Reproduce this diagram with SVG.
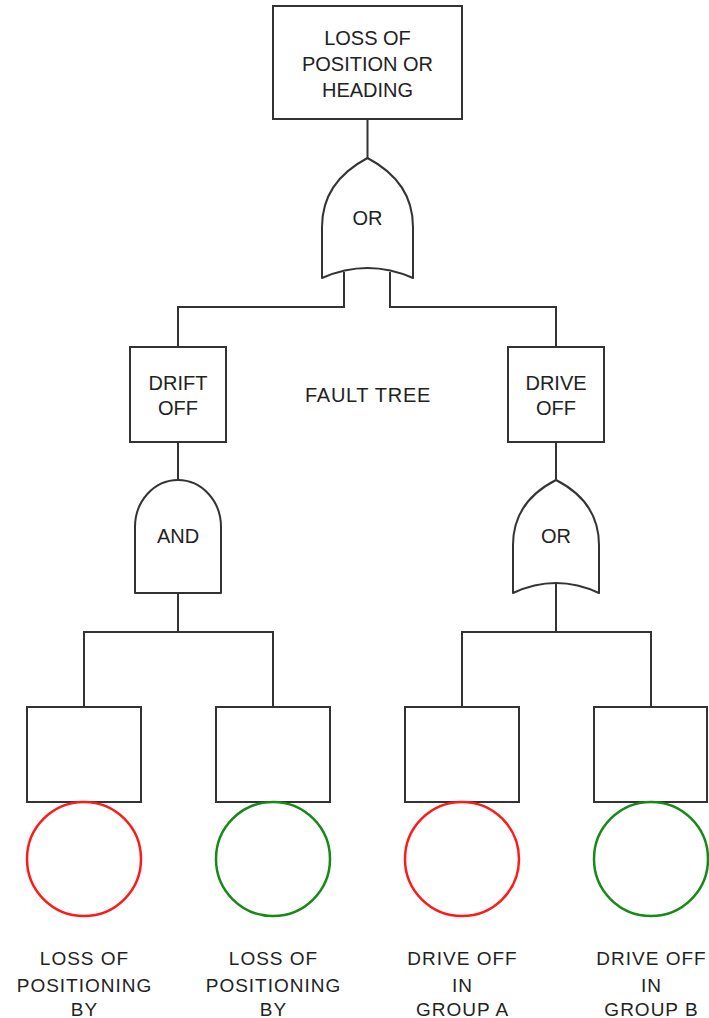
<svg xmlns="http://www.w3.org/2000/svg" width="709" height="1018" viewBox="0 0 709 1018">
  <style>
    .box { fill: #ffffff; stroke: #333333; stroke-width: 2; }
    .gate { fill: #ffffff; stroke: #333333; stroke-width: 2; stroke-linejoin: round; }
    .wire { fill: none; stroke: #333333; stroke-width: 2; }
    .basic { fill: none; stroke-width: 2.5; }
    .red { stroke: #ff1a1a; }
    .green { stroke: #158a15; }
    .lbl { font-family: "Liberation Sans", Arial, sans-serif; font-size: 20px; fill: #222222; text-anchor: middle; }
    .cap { font-family: "Liberation Sans", Arial, sans-serif; font-size: 19px; letter-spacing: 1px; fill: #222222; text-anchor: middle; }
  </style>

  <rect width="709" height="1018" fill="#ffffff"/>

  <!-- connectors -->
  <g id="connectors">
    <path class="wire" d="M367.5,119 V160"/>
    <path class="wire" d="M344,272 V307 H178 V347"/>
    <path class="wire" d="M390,272 V307 H556 V347"/>
    <path class="wire" d="M178,442 V480"/>
    <path class="wire" d="M178,593 V632"/>
    <path class="wire" d="M84,707 V632 H273 V707"/>
    <path class="wire" d="M556,442 V482"/>
    <path class="wire" d="M556,583 V632"/>
    <path class="wire" d="M462,707 V632 H651 V707"/>
  </g>

  <!-- top event -->
  <g id="top-event">
    <rect class="box" x="273" y="6" width="189" height="113"/>
    <text class="lbl" x="367.5" y="45">LOSS OF</text>
    <text class="lbl" x="367.5" y="71">POSITION OR</text>
    <text class="lbl" x="367.5" y="97">HEADING</text>
  </g>

  <!-- top OR gate -->
  <g id="or-top">
    <path class="gate" d="M367.5,158 Q322,182 322,227 L322,278 Q367.5,258 413,278 L413,227 Q413,182 367.5,158 Z"/>
    <text class="lbl" x="367.5" y="225">OR</text>
  </g>

  <g id="title">
    <text class="lbl" x="368" y="401.5" style="letter-spacing:0.7px">FAULT TREE</text>
  </g>

  <!-- drift off branch -->
  <g id="drift-off">
    <rect class="box" x="130" y="347" width="96" height="95"/>
    <text class="lbl" x="178" y="390">DRIFT</text>
    <text class="lbl" x="178" y="415">OFF</text>
  </g>

  <g id="and-gate">
    <path class="gate" d="M135,593 L135,527 A43,47 0 0 1 221,527 L221,593 Z"/>
    <text class="lbl" x="178" y="543">AND</text>
  </g>

  <!-- drive off branch -->
  <g id="drive-off">
    <rect class="box" x="508" y="347" width="96" height="95"/>
    <text class="lbl" x="556" y="390">DRIVE</text>
    <text class="lbl" x="556" y="415">OFF</text>
  </g>

  <g id="or-drive">
    <path class="gate" d="M556,480 Q513,502 513,545 L513,593 Q556,573 599,593 L599,545 Q599,502 556,480 Z"/>
    <text class="lbl" x="556" y="543">OR</text>
  </g>

  <!-- basic events -->
  <g id="event-1">
    <rect class="box" x="27" y="707" width="114" height="95"/>
    <circle class="basic red" cx="84" cy="859" r="57"/>
    <text class="cap" x="84.5" y="965">LOSS OF</text>
    <text class="cap" x="84.5" y="991.5">POSITIONING</text>
    <text class="cap" x="84.5" y="1016">BY</text>
  </g>

  <g id="event-2">
    <rect class="box" x="216" y="707" width="114" height="95"/>
    <circle class="basic green" cx="273" cy="859" r="57"/>
    <text class="cap" x="273.5" y="965">LOSS OF</text>
    <text class="cap" x="273.5" y="991.5">POSITIONING</text>
    <text class="cap" x="273.5" y="1016">BY</text>
  </g>

  <g id="event-3">
    <rect class="box" x="405" y="707" width="114" height="95"/>
    <circle class="basic red" cx="462" cy="859" r="57"/>
    <text class="cap" x="462.5" y="965">DRIVE OFF</text>
    <text class="cap" x="462.5" y="991.5">IN</text>
    <text class="cap" x="462.5" y="1016">GROUP A</text>
  </g>

  <g id="event-4">
    <rect class="box" x="594" y="707" width="113" height="95"/>
    <circle class="basic green" cx="651" cy="859" r="57"/>
    <text class="cap" x="651.5" y="965">DRIVE OFF</text>
    <text class="cap" x="651.5" y="991.5">IN</text>
    <text class="cap" x="651.5" y="1016">GROUP B</text>
  </g>
</svg>
